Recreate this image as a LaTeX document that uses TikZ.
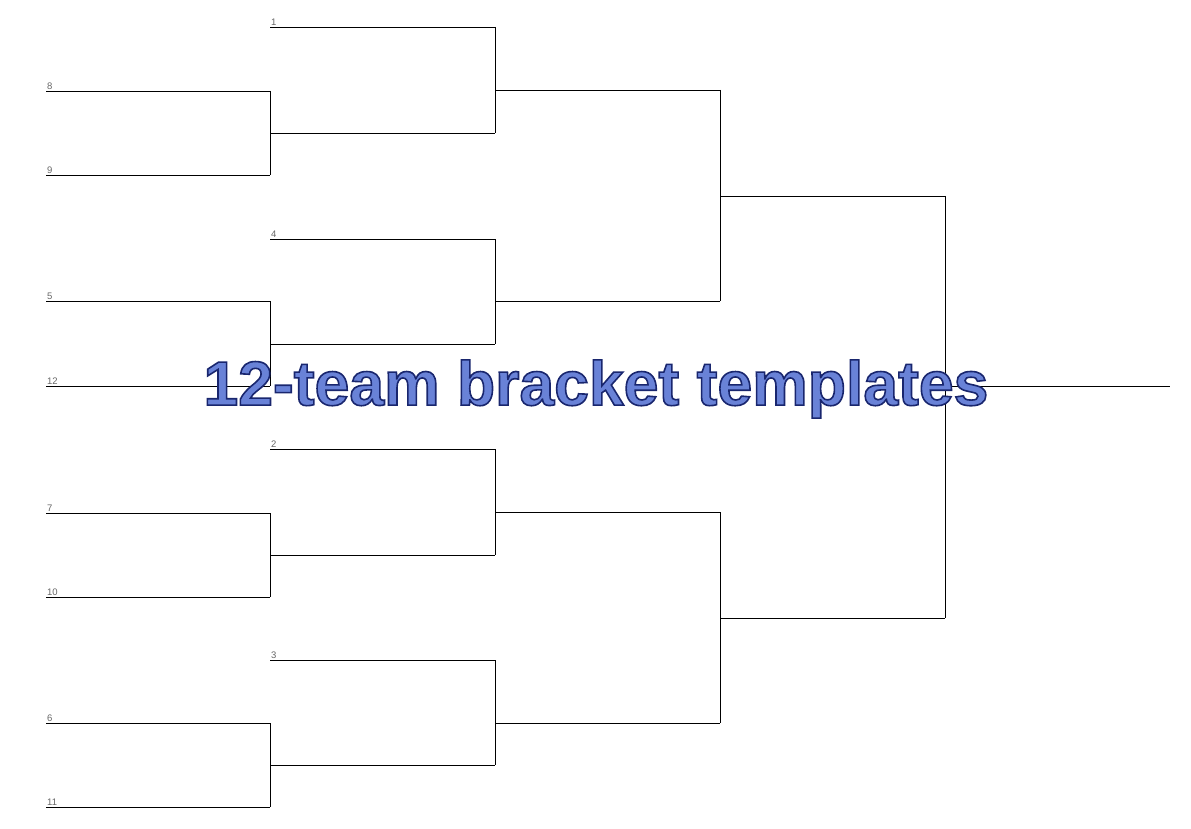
\documentclass[tikz,border=0pt]{standalone}
\usepackage{fontspec}
\newfontfamily\titlefont{Liberation Sans}
\newfontfamily\labfont{Liberation Sans}
\definecolor{titleblue}{RGB}{105,130,215}
\begin{document}
\begin{tikzpicture}[x=1pt,y=-1pt,
  br/.style={draw=black,line width=0.9pt},
  lab/.style={anchor=south west,inner sep=1pt,font=\labfont\fontsize{9.5}{10}\selectfont,text=black!60}]
\useasboundingbox (0,0) rectangle (1191,829);
% round 1 team lines
\foreach \n/\y/\s in {a/91/8,b/175/9,c/301/5,d/386/12,e/513/7,f/597/10,g/723/6,h/807/11}{
  \coordinate (s\n) at (46,\y);
  \coordinate (e\n) at (270,\y);
  \draw[br] (s\n) -- (e\n);
  \node[lab] (l\n) at (s\n) {\s};
}
% round 2 lines
\foreach \n/\y/\s in {p/27/1,q/239/4,r/449/2,t/660/3}{
  \coordinate (s\n) at (270,\y);
  \coordinate (e\n) at (495,\y);
  \draw[br] (s\n) -- (e\n);
  \node[lab] (l\n) at (s\n) {\s};
}
\foreach \n/\y in {w1/133,w2/344,w3/555,w4/765}{
  \coordinate (s\n) at (270,\y); \coordinate (e\n) at (495,\y);
  \draw[br] (s\n) -- (e\n);
}
\draw[br] (ea) -- (eb); \draw[br] (ec) -- (ed); \draw[br] (ee) -- (ef); \draw[br] (eg) -- (eh);
% round 3
\foreach \n/\y in {x1/90,x2/301,x3/512,x4/723}{
  \coordinate (s\n) at (495,\y); \coordinate (e\n) at (720,\y);
  \draw[br] (s\n) -- (e\n);
}
\draw[br] (ep) -- (ew1); \draw[br] (eq) -- (ew2); \draw[br] (er) -- (ew3); \draw[br] (et) -- (ew4);
% round 4
\foreach \n/\y in {y1/196,y2/618}{
  \coordinate (s\n) at (720,\y); \coordinate (e\n) at (945,\y);
  \draw[br] (s\n) -- (e\n);
}
\draw[br] (ex1) -- (ex2); \draw[br] (ex3) -- (ex4);
% final
\draw[br] (ey1) -- (ey2);
\coordinate (fin1) at (945,386); \coordinate (fin2) at (1170,386);
\draw[br] (fin1) -- (fin2);
% title
\node[inner sep=0pt,font=\titlefont\bfseries\fontsize{62.5}{66}\selectfont,text=titleblue] (title) at (596,389)
  {\special{pdf:code 0.1 0.15 0.43 RG 1.6 w 2 Tr}12-team bracket templates\special{pdf:code 0 Tr}};
\end{tikzpicture}
\end{document}
